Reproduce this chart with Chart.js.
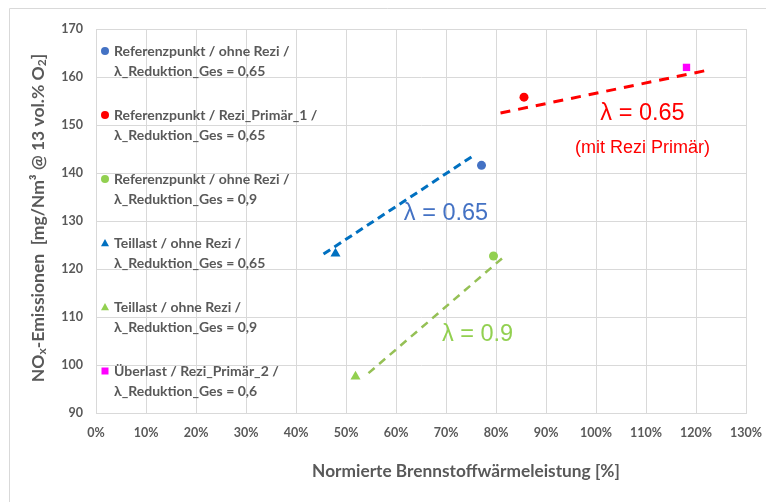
<!DOCTYPE html>
<html><head><meta charset="utf-8">
<script src="https://cdn.jsdelivr.net/npm/chart.js@4.4.1/dist/chart.umd.min.js"></script>
<style>html,body{margin:0;padding:0;background:#fff}#wrap{width:766px;height:502px;position:relative}</style>
</head><body><div id="wrap"><canvas id="c" width="766" height="502"></canvas></div>
<script>
// ---- data ----
const seriesLabels = [
  ['Referenzpunkt / ohne Rezi /', 'λ_Reduktion_Ges = 0,65'],
  ['Referenzpunkt / Rezi_Primär_1 /', 'λ_Reduktion_Ges = 0,65'],
  ['Referenzpunkt / ohne Rezi /', 'λ_Reduktion_Ges = 0,9'],
  ['Teillast / ohne Rezi /', 'λ_Reduktion_Ges = 0,65'],
  ['Teillast / ohne Rezi /', 'λ_Reduktion_Ges = 0,9'],
  ['Überlast / Rezi_Primär_2 /', 'λ_Reduktion_Ges = 0,6']
];
const seriesX = [77.1, 85.6, 79.5, 47.9, 51.9, 118.1];
const seriesY = [141.6, 155.8, 122.7, 123.2, 97.6, 162.0];
const seriesColors = ['#4472C4', '#FF0000', '#92D050', '#0070C0', '#92D050', '#FF00FF'];
const seriesShapes = ['circle', 'circle', 'circle', 'triangle', 'triangle', 'rect'];

const trendX = [[45.5, 75.9], [80.9, 122.7], [54.5, 81.2]];
const trendY = [[123.1, 143.9], [152.5, 161.5], [98.3, 122.2]];
const trendColors = ['#0070C0', '#FF0000', '#95C055'];

const xTickValues = [0, 10, 20, 30, 40, 50, 60, 70, 80, 90, 100, 110, 120, 130];
const yTickValues = [90, 100, 110, 120, 130, 140, 150, 160, 170];

const annoText = ['λ = 0.65', '(mit Rezi Primär)', 'λ = 0.65', 'λ = 0.9'];
const annoX = [109.3, 109.3, 70.0, 76.3];
const annoY = [152.4, 145.1, 131.5, 106.3];
const annoColors = ['#FF0000', '#FF0000', '#4472C4', '#92D050'];

const xTitle = 'Normierte Brennstoffwärmeleistung [%]';

// ---- styles ----
const GRAY = '#595959';
const LABEL_FONT = 'Lato, "Open Sans", sans-serif';
const pointSizes = { circle: 4.5, triangle: 5.8, rect: 5.2 };
const dashes = [[8, 5], [10, 8], [8, 6]];
const lineWidths = [3, 3, 2.5];
const annoFonts = ['23.5px "Liberation Sans", Arial, sans-serif', '18px "Liberation Sans", Arial, sans-serif',
                   '23.5px "Liberation Sans", Arial, sans-serif', '23.5px "Liberation Sans", Arial, sans-serif'];

const datasets = [];
seriesLabels.forEach((lab, i) => {
  datasets.push({
    label: lab.join(' '),
    data: [{ x: seriesX[i], y: seriesY[i] }],
    pointStyle: seriesShapes[i],
    pointRadius: pointSizes[seriesShapes[i]],
    backgroundColor: seriesColors[i],
    borderColor: seriesColors[i],
    borderWidth: 0,
    showLine: false,
    order: 1
  });
});
trendX.forEach((xs, i) => {
  datasets.push({
    label: 'trend' + i,
    data: xs.map((x, k) => ({ x: x, y: trendY[i][k] })),
    showLine: true,
    borderColor: trendColors[i],
    borderWidth: lineWidths[i],
    borderDash: dashes[i],
    pointRadius: 0,
    fill: false,
    order: 2
  });
});

function drawMarker(ctx, shape, color, x, y, r) {
  ctx.save();
  ctx.fillStyle = color;
  ctx.beginPath();
  if (shape === 'circle') { ctx.arc(x, y, r, 0, Math.PI * 2); }
  else if (shape === 'triangle') {
    ctx.moveTo(x, y - r); ctx.lineTo(x + r, y + r * 0.8); ctx.lineTo(x - r, y + r * 0.8); ctx.closePath();
  } else { ctx.rect(x - r, y - r, 2 * r, 2 * r); }
  ctx.fill();
  ctx.restore();
}

const decor = {
  id: 'decor',
  afterDraw(chart) {
    const ctx = chart.ctx;
    const xs = chart.scales.x, ys = chart.scales.y;
    ctx.save();
    // outer frame (top & left)
    ctx.strokeStyle = '#D9D9D9'; ctx.lineWidth = 1;
    ctx.beginPath(); ctx.moveTo(9.5, 502); ctx.lineTo(9.5, 8.5); ctx.lineTo(766, 8.5); ctx.stroke();

    // legend
    ctx.textBaseline = 'middle'; ctx.textAlign = 'left';
    ctx.font = 'bold 14px ' + LABEL_FONT;
    ctx.fillStyle = GRAY;
    seriesLabels.forEach((lab, i) => {
      const y0 = 51 + i * 64;
      drawMarker(ctx, seriesShapes[i], seriesColors[i], 105, y0, seriesShapes[i] === 'rect' ? 3.5 : 4);
      ctx.fillStyle = GRAY;
      ctx.fillText(lab[0], 114, y0);
      ctx.fillText(lab[1], 114, y0 + 20);
    });

    // annotations
    ctx.textAlign = 'center';
    annoText.forEach((t, i) => {
      ctx.font = annoFonts[i];
      ctx.fillStyle = annoColors[i];
      ctx.fillText(t, xs.getPixelForValue(annoX[i]), ys.getPixelForValue(annoY[i]));
    });

    // x title
    ctx.font = 'bold 17.3px ' + LABEL_FONT;
    ctx.fillStyle = GRAY;
    ctx.fillText(xTitle, 466, 471);

    // y title with subscripts
    ctx.translate(38, 218);
    ctx.rotate(-Math.PI / 2);
    const big = 'bold 17.5px ' + LABEL_FONT, small = 'bold 12px ' + LABEL_FONT;
    const parts = [['NO', big, 0], ['x', small, 4], ['-Emissionen  [mg/Nm³ @ 13 vol.% O', big, 0], ['2', small, 4], [']', big, 0]];
    let total = 0;
    parts.forEach(p => { ctx.font = p[1]; total += ctx.measureText(p[0]).width; });
    let cx = -total / 2;
    ctx.textAlign = 'left';
    parts.forEach(p => { ctx.font = p[1]; ctx.fillText(p[0], cx, p[2]); cx += ctx.measureText(p[0]).width; });
    ctx.restore();
  }
};

new Chart(document.getElementById('c'), {
  type: 'scatter',
  data: { datasets: datasets },
  options: {
    responsive: false,
    animation: false,
    devicePixelRatio: 1,
    layout: { padding: { top: 29, right: 20, left: 0, bottom: 0 } },
    plugins: { legend: { display: false }, tooltip: { enabled: false } },
    scales: {
      x: {
        type: 'linear', min: 0, max: 130,
        afterBuildTicks: s => { s.ticks = xTickValues.map(v => ({ value: v })); },
        afterFit: s => { s.height = 89; s.paddingLeft = 0; s.paddingRight = 0; },
        ticks: { callback: v => v + '%', color: GRAY, font: { family: LABEL_FONT, size: 12.5, weight: 'bold' }, padding: 12, maxRotation: 0, autoSkip: false },
        grid: { color: '#D9D9D9', drawTicks: false },
        border: { color: '#D9D9D9' }
      },
      y: {
        type: 'linear', min: 90, max: 170,
        afterBuildTicks: s => { s.ticks = yTickValues.map(v => ({ value: v })); },
        afterFit: s => { s.width = 96; s.paddingTop = 0; s.paddingBottom = 0; },
        ticks: { color: GRAY, font: { family: LABEL_FONT, size: 12.5, weight: 'bold' }, padding: 13 },
        grid: { color: '#D9D9D9', drawTicks: false },
        border: { color: '#D9D9D9' }
      }
    }
  },
  plugins: [decor]
});
</script></body></html>
